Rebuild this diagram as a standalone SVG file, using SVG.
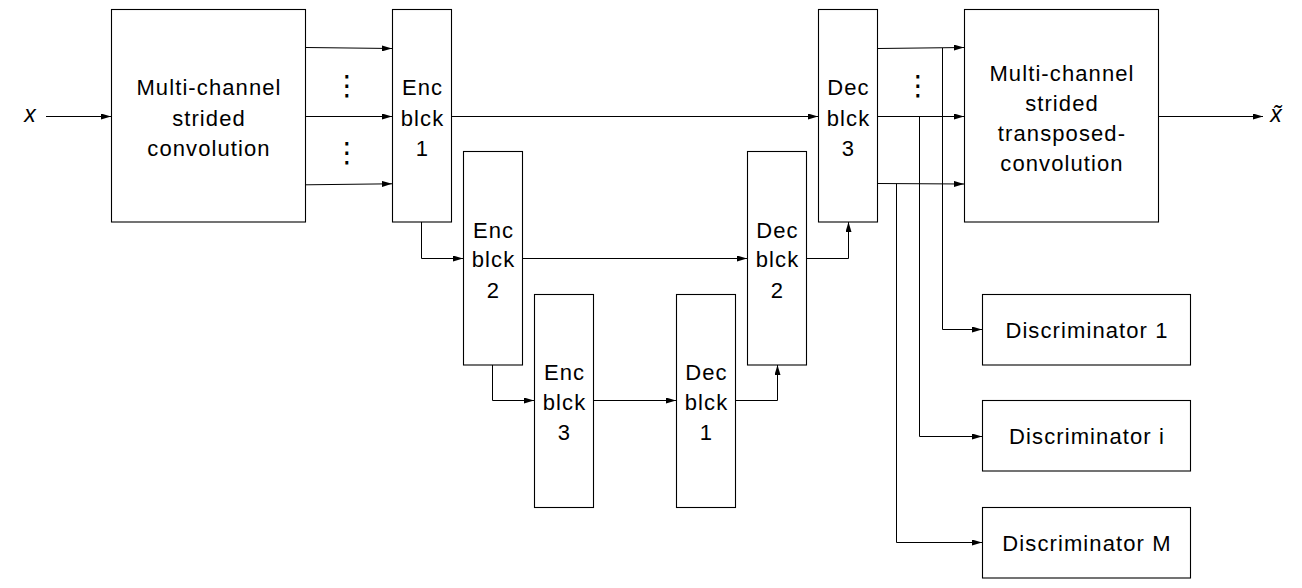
<svg xmlns="http://www.w3.org/2000/svg" width="1302" height="588" viewBox="0 0 1302 588">
<defs>
<style>
.box{fill:#fff;stroke:#000;stroke-width:1.1}
.lbl{font-family:'Liberation Sans',Arial,sans-serif;font-size:22px;letter-spacing:1.1px;fill:#000;text-anchor:middle}
.math{font-family:'Liberation Sans',Arial,sans-serif;font-size:23px;font-style:italic;fill:#000;text-anchor:middle}
.dots{font-family:'DejaVu Sans',sans-serif;font-size:28px;fill:#000;text-anchor:middle}
.c{fill:none;stroke:#000;stroke-width:1}
</style>
<marker id="ah" viewBox="0 0 10 6" refX="10" refY="3" markerWidth="10" markerHeight="6" markerUnits="userSpaceOnUse" orient="auto">
<path d="M0,0 L10,3 L0,6 Z" fill="#000"/>
</marker>
</defs>
<rect width="1302" height="588" fill="#fff"/>
<g id="conv">
<rect class="box" x="111.5" y="9.5" width="194" height="212.5"/>
<text class="lbl" x="209" y="95">Multi-channel</text>
<text class="lbl" x="209" y="125.5">strided</text>
<text class="lbl" x="209" y="156">convolution</text>
</g>
<g id="enc1">
<rect class="box" x="392.5" y="9.5" width="59" height="212.5"/>
<text class="lbl" x="422.5" y="95">Enc</text>
<text class="lbl" x="422.5" y="125.5">blck</text>
<text class="lbl" x="422.5" y="156">1</text>
</g>
<g id="enc2">
<rect class="box" x="463.5" y="151.5" width="59" height="213.5"/>
<text class="lbl" x="493.5" y="237.5">Enc</text>
<text class="lbl" x="493.5" y="267">blck</text>
<text class="lbl" x="493.5" y="297.5">2</text>
</g>
<g id="enc3">
<rect class="box" x="534.5" y="294.5" width="59" height="213"/>
<text class="lbl" x="564.5" y="380">Enc</text>
<text class="lbl" x="564.5" y="409.5">blck</text>
<text class="lbl" x="564.5" y="440">3</text>
</g>
<g id="dec1">
<rect class="box" x="676.5" y="294.5" width="59" height="213"/>
<text class="lbl" x="706.5" y="380">Dec</text>
<text class="lbl" x="706.5" y="409.5">blck</text>
<text class="lbl" x="706.5" y="440">1</text>
</g>
<g id="dec2">
<rect class="box" x="747.5" y="151.5" width="59" height="213.5"/>
<text class="lbl" x="777.5" y="237.5">Dec</text>
<text class="lbl" x="777.5" y="267">blck</text>
<text class="lbl" x="777.5" y="297.5">2</text>
</g>
<g id="dec3">
<rect class="box" x="818.5" y="9.5" width="59" height="212.5"/>
<text class="lbl" x="848.5" y="95">Dec</text>
<text class="lbl" x="848.5" y="125.5">blck</text>
<text class="lbl" x="848.5" y="156">3</text>
</g>
<g id="tconv">
<rect class="box" x="964.5" y="9.5" width="194" height="212.5"/>
<text class="lbl" x="1062" y="81">Multi-channel</text>
<text class="lbl" x="1062" y="111">strided</text>
<text class="lbl" x="1062" y="141">transposed-</text>
<text class="lbl" x="1062" y="171">convolution</text>
</g>
<g id="disc1">
<rect class="box" x="982.5" y="294.5" width="208" height="70.5"/>
<text class="lbl" x="1087" y="337.5">Discriminator 1</text>
</g>
<g id="disci">
<rect class="box" x="982.5" y="400.5" width="208" height="70.5"/>
<text class="lbl" x="1087" y="444">Discriminator i</text>
</g>
<g id="discM">
<rect class="box" x="982.5" y="507.5" width="208" height="70.5"/>
<text class="lbl" x="1087" y="550.5">Discriminator M</text>
</g>
<g id="labels">
<text class="math" x="30" y="122">x</text>
<text class="math" x="1276" y="122">x̃</text>
<text class="dots" x="347" y="95">⋮</text>
<text class="dots" x="347" y="162">⋮</text>
<text class="dots" x="918" y="95">⋮</text>
</g>
<g id="connectors">
<path class="c" d="M46,116.5 H111" marker-end="url(#ah)"/>
<path class="c" d="M306,47.5 L392,48.5" marker-end="url(#ah)"/>
<path class="c" d="M306,116.5 H392" marker-end="url(#ah)"/>
<path class="c" d="M306,184.8 L392,183.8" marker-end="url(#ah)"/>
<path class="c" d="M452,116.5 H818" marker-end="url(#ah)"/>
<path class="c" d="M421.5,222 V258.5 H463" marker-end="url(#ah)"/>
<path class="c" d="M523,258.5 H747" marker-end="url(#ah)"/>
<path class="c" d="M492.5,365 V400.5 H534" marker-end="url(#ah)"/>
<path class="c" d="M594,400.5 H676" marker-end="url(#ah)"/>
<path class="c" d="M736,400.5 H777.5 V365" marker-end="url(#ah)"/>
<path class="c" d="M807,258.5 H848.5 V222" marker-end="url(#ah)"/>
<path class="c" d="M878,48.5 L964,47.5" marker-end="url(#ah)"/>
<path class="c" d="M878,116.5 H964" marker-end="url(#ah)"/>
<path class="c" d="M878,183.5 L964,184" marker-end="url(#ah)"/>
<path class="c" d="M942.5,48 V329.5 H982" marker-end="url(#ah)"/>
<path class="c" d="M919.5,116.5 V436.5 H982" marker-end="url(#ah)"/>
<path class="c" d="M896.5,183.7 V542.5 H982" marker-end="url(#ah)"/>
<path class="c" d="M1159,116.5 H1263" marker-end="url(#ah)"/>
</g>
</svg>
